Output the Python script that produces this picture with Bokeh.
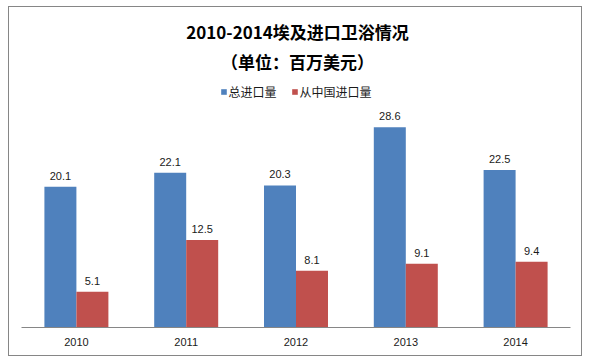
from bokeh.plotting import figure
from bokeh.models import ColumnDataSource, Range1d, FactorRange, Label, Legend, LegendItem
from bokeh.transform import dodge
from bokeh.core.properties import value
from bokeh.embed import file_html
from bokeh.resources import INLINE

years = ["2010", "2011", "2012", "2013", "2014"]
total_import = [20.1, 22.1, 20.3, 28.6, 22.5]
china_import = [5.1, 12.5, 8.1, 9.1, 9.4]
series_names = ["总进口量", "从中国进口量"]
title_line1 = "2010-2014埃及进口卫浴情况"
title_line2 = "（单位：百万美元）"

BLUE = "#4F81BD"
RED = "#C0504D"
CJK = "Noto Sans CJK SC"

src = ColumnDataSource(dict(
    year=years,
    total=total_import,
    china=china_import,
    total_lbl=[f"{v:.1f}" for v in total_import],
    china_lbl=[f"{v:.1f}" for v in china_import],
))

p = figure(
    width=574, height=350,
    x_range=FactorRange(*years, range_padding=0),
    y_range=Range1d(0, 45.71),
    output_backend="svg", toolbar_location=None,
    min_border_left=12, min_border_right=13, min_border_top=0, min_border_bottom=30,
    styles={"margin-left": "8px", "margin-top": "6px", "border": "1px solid #868686"},
)
p.outline_line_color = None
p.xgrid.visible = False
p.ygrid.visible = False
p.yaxis.visible = False

off = 0.1457
bw = 0.2914
r1 = p.vbar(x=dodge("year", -off, range=p.x_range), top="total", width=bw, source=src,
            fill_color=BLUE, line_color=None)
r2 = p.vbar(x=dodge("year", off, range=p.x_range), top="china", width=bw, source=src,
            fill_color=RED, line_color=None)

for col, lbl, o in (("total", "total_lbl", -off), ("china", "china_lbl", off)):
    p.text(x=dodge("year", o, range=p.x_range), y=col, text=lbl, source=src,
           text_align="center", text_baseline="bottom", y_offset=-7,
           text_font=value("Liberation Sans"), text_font_size="11px", text_color="#1a1a1a")

ax = p.xaxis[0]
ax.axis_line_color = "#868686"
ax.axis_line_width = 1
ax.major_tick_line_color = None
ax.major_tick_out = 0
ax.major_tick_in = 0
ax.minor_tick_line_color = None
ax.major_label_standoff = 10
ax.major_label_text_font = "Liberation Sans"
ax.major_label_text_font_size = "11px"
ax.major_label_text_color = "#1a1a1a"

legend = Legend(items=[LegendItem(label=series_names[0], renderers=[r1]),
                       LegendItem(label=series_names[1], renderers=[r2])],
                orientation="horizontal", location="top_center",
                margin=76, padding=0, spacing=14,
                glyph_width=7, glyph_height=7, label_standoff=2,
                label_height=14, label_text_font=CJK, label_text_font_size="12px",
                label_text_color="#1a1a1a",
                border_line_color=None, background_fill_alpha=0)
p.add_layout(legend, "center")

p.add_layout(Label(x=287, y=23, x_units="canvas", y_units="canvas", text=title_line1,
                   text_align="center", text_baseline="middle", text_font=CJK,
                   text_font_size="17px", text_font_style="bold", text_color="#000000"))
p.add_layout(Label(x=287, y=53, x_units="canvas", y_units="canvas", text=title_line2,
                   text_align="center", text_baseline="middle", text_font=CJK,
                   text_font_size="17px", text_font_style="bold", text_color="#000000"))

open("out.html", "w").write(file_html(p, INLINE))
